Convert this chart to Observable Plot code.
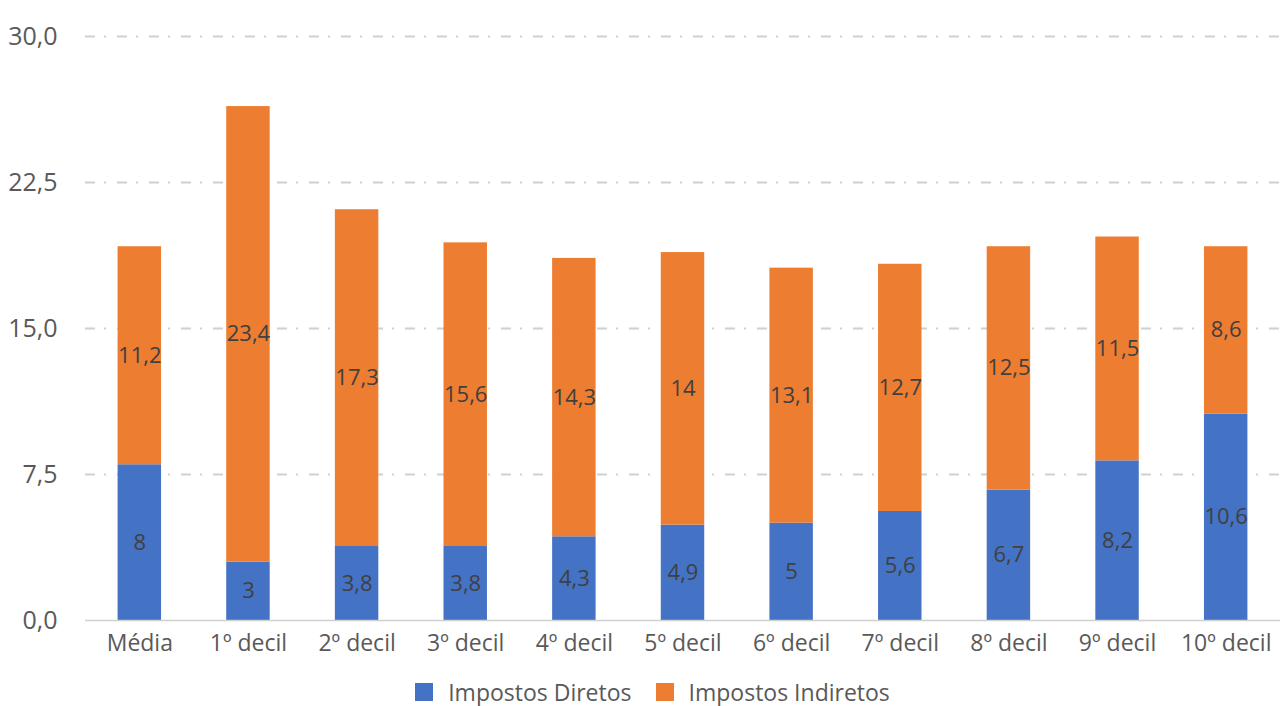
<!DOCTYPE html>
<html>
<head>
<meta charset="utf-8">
<script src="https://cdn.jsdelivr.net/npm/d3@7"></script>
<script src="https://cdn.jsdelivr.net/npm/@observablehq/plot@0.6"></script>
<style>
  body { margin: 0; background: #fff; font-family: "Open Sans", sans-serif; overflow: hidden; }
  #legend { display: flex; justify-content: center; align-items: center; gap: 24px;
            height: 28px; margin-top: 18px; padding-left: 25px; font-size: 23px; color: #595959; }
  .item { display: flex; align-items: center; gap: 15px; }
  .sw { width: 18px; height: 18px; display: inline-block; }
</style>
</head>
<body>
<div id="chart"></div>
<div id="legend"></div>
<script>
// Categorias (média e decis de rendimento)
const categories = ["Média", "1º decil", "2º decil", "3º decil", "4º decil", "5º decil",
                    "6º decil", "7º decil", "8º decil", "9º decil", "10º decil"];
// Peso dos impostos diretos e indiretos (%)
const diretos   = [8, 3, 3.8, 3.8, 4.3, 4.9, 5, 5.6, 6.7, 8.2, 10.6];
const indiretos = [11.2, 23.4, 17.3, 15.6, 14.3, 14, 13.1, 12.7, 12.5, 11.5, 8.6];
const series = ["Impostos Diretos", "Impostos Indiretos"];
const colors = ["#4472C4", "#ED7D31"];
const yTicks = [0, 7.5, 15, 22.5, 30];

const rows = categories.flatMap((c, i) => [
  {cat: c, serie: series[0], value: diretos[i], label: String(diretos[i]).replace(".", ",")},
  {cat: c, serie: series[1], value: indiretos[i], label: String(indiretos[i]).replace(".", ",")}
]);

const fmt = d => d.toFixed(1).replace(".", ",");

const chart = Plot.plot({
  width: 1280,
  height: 660,
  marginLeft: 85,
  marginRight: 0,
  marginTop: 36,
  marginBottom: 40,
  style: {fontFamily: "Open Sans, sans-serif", fontSize: "23px", color: "#595959", background: "#fff"},
  x: {domain: categories, paddingInner: 0.6, paddingOuter: 0.3, round: false, label: null, tickSize: 0, tickPadding: 14},
  y: {domain: [0, 30], ticks: yTicks, label: null, tickSize: 0, tickPadding: 28, tickFormat: fmt},
  color: {domain: series, range: colors},
  marks: [
    Plot.ruleY(yTicks.filter(d => d > 0), {stroke: "#d0d0d0", strokeWidth: 1.8, strokeDasharray: "10,9,2,11"}),
    Plot.barY(rows, Plot.stackY({x: "cat", y: "value", fill: "serie", order: series})),
    Plot.ruleY([0], {stroke: "#d0d0d0", strokeWidth: 1.6}),
    Plot.text(rows, Plot.stackY({x: "cat", y: "value", z: "serie", order: series, text: "label",
      fill: "#404040", fontSize: 22}))
  ]
});
// Rótulos do eixo vertical um pouco maiores
d3.select(chart).selectAll("[aria-label='y-axis tick label'] text").style("font-size", "25px");
document.getElementById("chart").appendChild(chart);

const legend = document.getElementById("legend");
series.forEach((s, i) => {
  const item = document.createElement("span");
  item.className = "item";
  item.innerHTML = `<span class="sw" style="background:${colors[i]}"></span><span>${s}</span>`;
  legend.appendChild(item);
});
</script>
</body>
</html>
